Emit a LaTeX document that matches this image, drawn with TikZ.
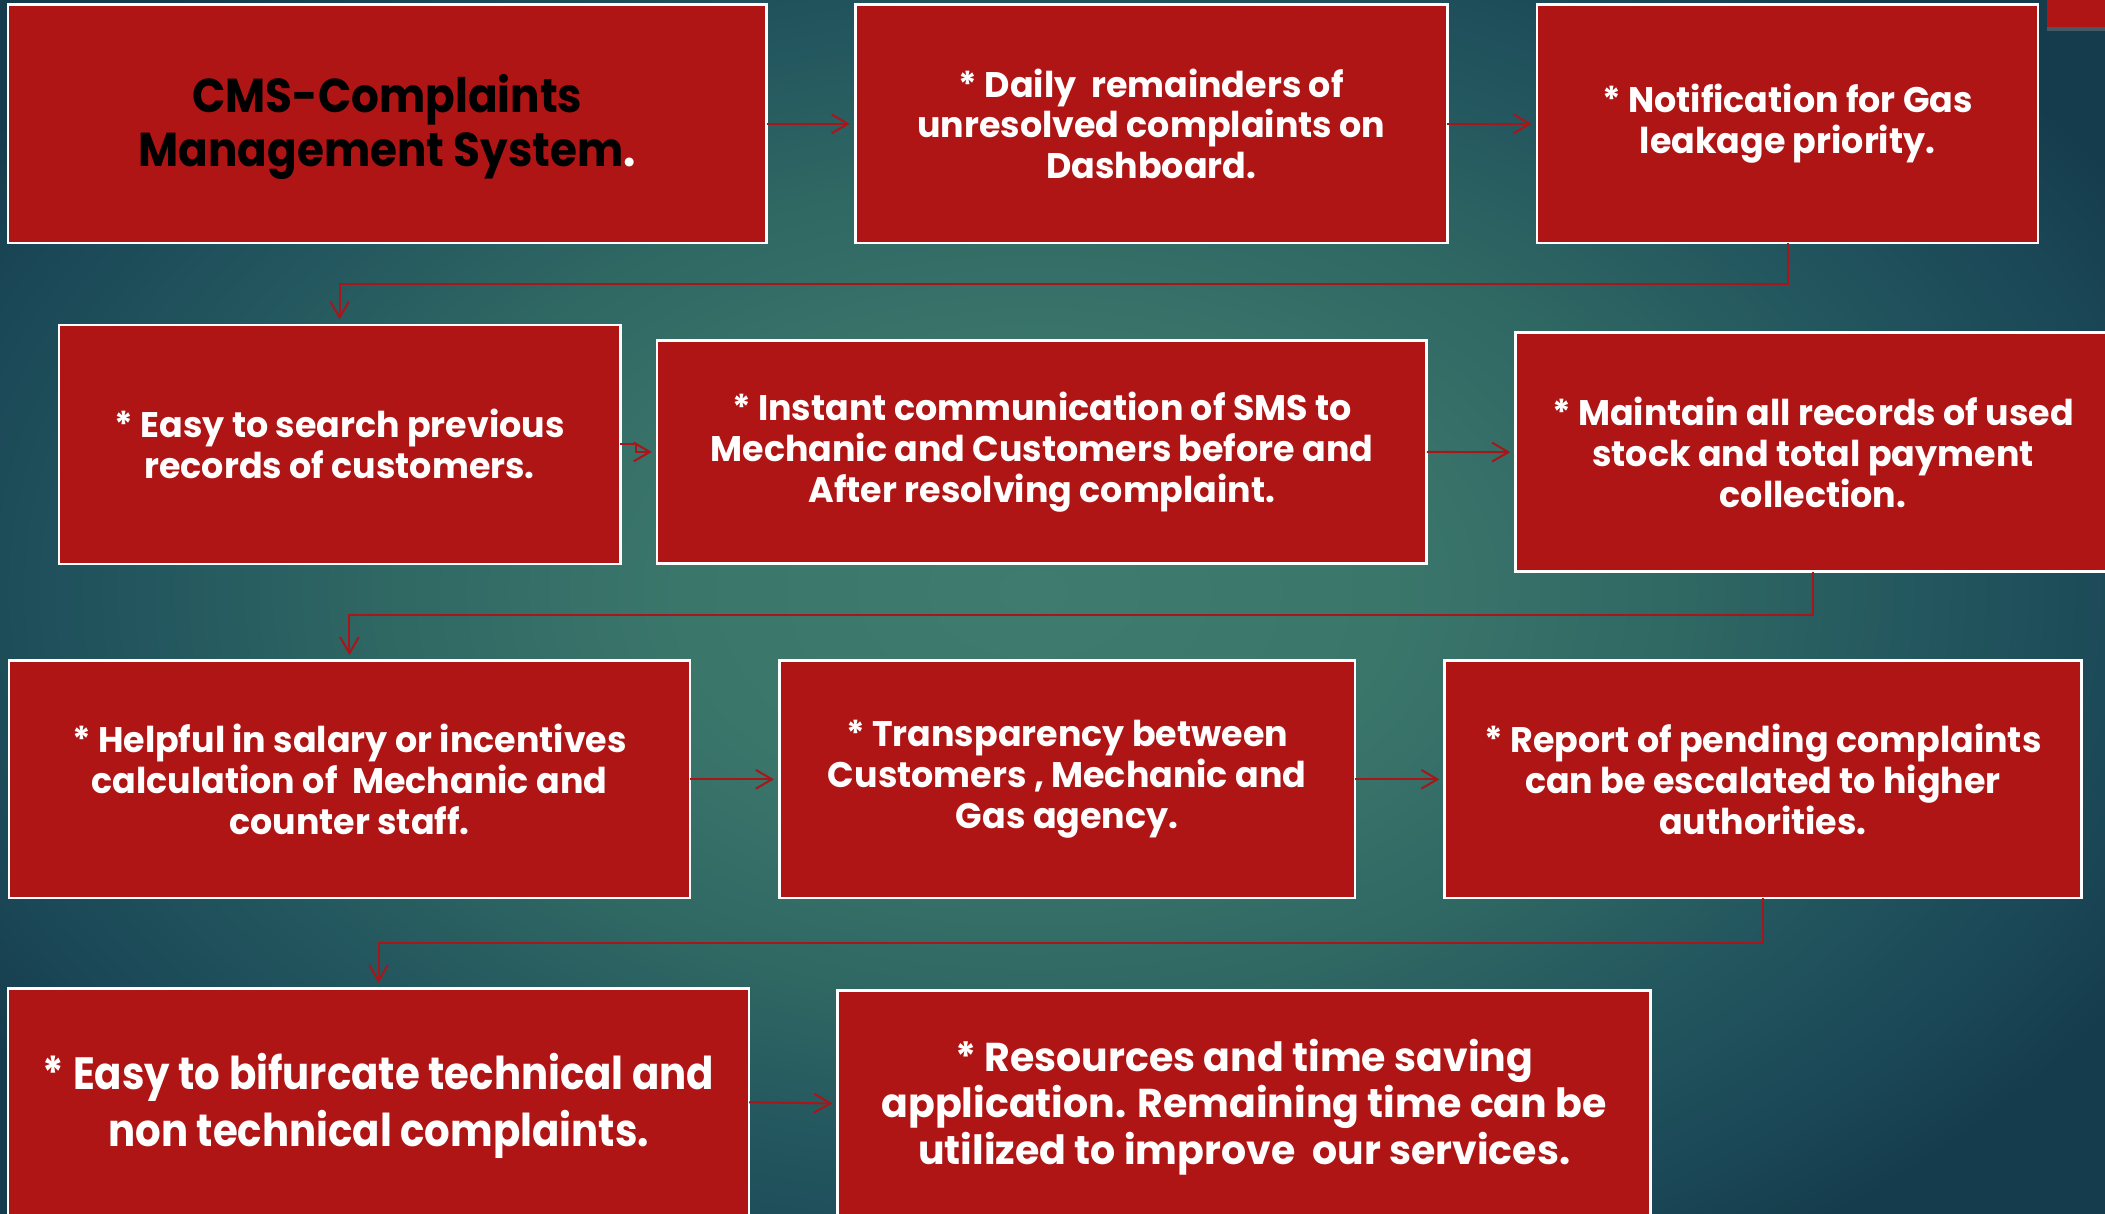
\documentclass[tikz,border=0pt]{standalone}
\usepackage{fontspec}
\setmainfont{Poppins}[FakeStretch=0.98]
\newfontfamily\titlefam{Poppins}[FakeStretch=0.92]
\newfontfamily\bigfam{Poppins}[FakeStretch=0.89]
\usetikzlibrary{arrows.meta,shadows}

\definecolor{boxred}{HTML}{AF1515}
\definecolor{linkred}{HTML}{A8161A}
\definecolor{bgA}{HTML}{3F7B6F}
\definecolor{bgB}{HTML}{3B766B}
\definecolor{bgC}{HTML}{2F6763}
\definecolor{bgD}{HTML}{22555E}
\definecolor{bgE}{HTML}{1B4857}
\definecolor{bgF}{HTML}{153C4C}

% the path's bounding box spans -25bp..25bp of the shading
\pgfdeclareradialshading{bgglow}{\pgfpoint{0bp}{0bp}}{%
  color(0bp)=(bgA); color(7bp)=(bgB); color(13bp)=(bgC);
  color(18bp)=(bgD); color(22bp)=(bgE); color(25bp)=(bgF);
  color(50bp)=(bgF)}

\newcommand{\bodytext}{\fontsize{26.5}{30.5}\selectfont\bfseries}
\newcommand{\titletext}{\titlefam\fontsize{35.4}{39.7}\selectfont\bfseries}
\newcommand{\bigtext}{\bigfam\fontsize{33.7}{42.4}\selectfont\bfseries}
\newcommand{\midtext}{\fontsize{30}{34.7}\selectfont\bfseries}

\tikzset{
  card/.style={draw=white, line width=2pt, fill=boxred, text=white,
    align=center, inner sep=0pt, outer sep=0pt, anchor=north west,
    font=\bodytext},
  link/.style={draw=linkred, line width=1.5pt,
    -{Straight Barb[length=12pt,width=14pt]}, shorten >=4pt},
}

\begin{document}
\begin{tikzpicture}[x=1pt,y=-1pt]
  \useasboundingbox (0,0) rectangle (1568,904);
  \clip (0,0) rectangle (1568,904);

  % backdrop: dark teal with a soft glow in the middle
  \fill[bgF] (0,0) rectangle (1568,904);
  \shade[shading=bgglow] (-170,-160) rectangle (1710,1040);

  % corner tab at the top right
  \fill[boxred, drop shadow={shadow xshift=0pt, shadow yshift=-3pt, opacity=0.45}]
    (1525,-6) rectangle (1580,20.4);

  % row 1
  \node[card, font=\titletext, text=black, minimum width=565pt, minimum height=177.5pt]
    (b1) at (6,3.5) {\rule{0pt}{33pt}CMS-Complaints\\Management System\textcolor{white}{.}};
  \node[card, minimum width=441pt, minimum height=177.5pt]
    (b2) at (637,3.5) {* Daily\ \ remainders of\\unresolved complaints on\\Dashboard.};
  \node[card, minimum width=373pt, minimum height=177.5pt]
    (b3) at (1145,3.5) {* Notification for Gas\\leakage priority.};

  % row 2
  \node[card, minimum width=418pt, minimum height=178pt]
    (b4) at (44,242) {* Easy to search previous\\records of customers.};
  \node[card, minimum width=573.3pt, minimum height=165.7pt]
    (b5) at (489.5,253.8) {* Instant communication of SMS to\\Mechanic and Customers before and\\After resolving complaint.};
  \node[card, minimum width=443pt, minimum height=178pt]
    (b6) at (1129,247.8) {* Maintain all records of used\\stock and total payment\\collection.};

  % row 3
  \node[card, minimum width=507.4pt, minimum height=177pt]
    (b7) at (6.6,492) {* Helpful in salary or incentives\\calculation of\ \ Mechanic and\\counter staff.};
  \node[card, minimum width=428.8pt, minimum height=177pt]
    (b8) at (580.5,492) {* Transparency between\\Customers , Mechanic and\\Gas agency.};
  \node[card, minimum width=474.1pt, minimum height=177pt]
    (b9) at (1076.2,492) {* Report of pending complaints\\can be escalated to higher\\authorities.};

  % row 4
  \node[card, font=\bigtext, minimum width=552pt, minimum height=169.8pt]
    (b10) at (6,736.2) {\rule{0pt}{32pt}* Easy to bifurcate technical and\\non technical complaints.};
  \node[card, font=\midtext, minimum width=605.6pt, minimum height=168pt]
    (b11) at (624,738) {\rule{0pt}{29pt}* Resources and time saving\\application. Remaining time can be\\utilized to improve\ \ our services.};

  % connectors
  \draw[link] (b1.east) -- (b2.west);
  \draw[link] (b2.east) -- (b3.west);
  \draw[link] (b3.south) -- ++(0,30.5) -| (b4.north);
  \draw[link] (b4.east) -- ++(12,0) |- (b5.west);
  \draw[link] (b5.east) -- (b6.west);
  \draw[link] (b6.south) -- ++(0,32.2) -| (b7.north);
  \draw[link] (b7.east) -- (b8.west);
  \draw[link] (b8.east) -- (b9.west);
  \draw[link] (b9.south) -- ++(0,33.7) -| (b10.north);
  \draw[link] (b10.east) -- (b11.west);
\end{tikzpicture}
\end{document}
